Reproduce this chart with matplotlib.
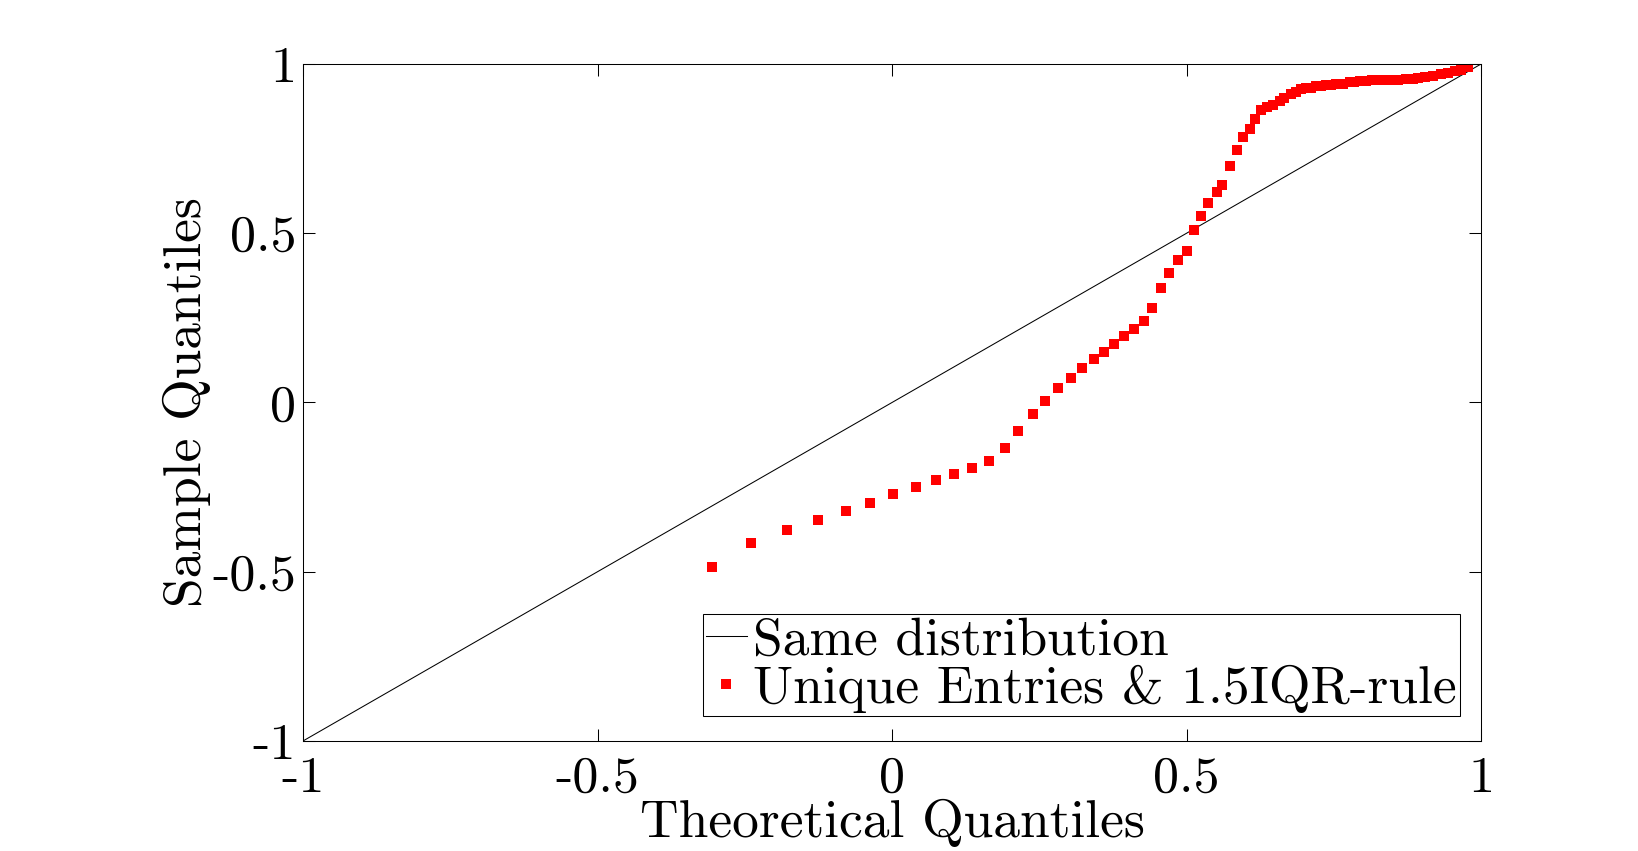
import matplotlib
matplotlib.use('Agg')
import matplotlib.pyplot as plt

plt.rcParams['font.family'] = ['cmr10', 'DejaVu Serif']
plt.rcParams['axes.unicode_minus'] = False

# QQ points (theoretical, sample)
theo_q = [-0.305, -0.239, -0.178, -0.125, -0.079, -0.037, 0.002, 0.040, 0.075, 0.106,
          0.136, 0.165, 0.191, 0.214, 0.240, 0.260, 0.282, 0.303, 0.323, 0.342,
          0.360, 0.377, 0.394, 0.411, 0.427, 0.442, 0.457, 0.471, 0.486, 0.500,
          0.513, 0.525, 0.537, 0.551, 0.561, 0.573, 0.585, 0.596, 0.607, 0.617,
          0.627, 0.637, 0.647, 0.658, 0.666, 0.678, 0.686, 0.695, 0.703, 0.712,
          0.720, 0.729, 0.737, 0.746, 0.754, 0.765, 0.777, 0.785, 0.794, 0.805,
          0.814, 0.825, 0.836, 0.848, 0.859, 0.873, 0.884, 0.893, 0.904, 0.918,
          0.932, 0.944, 0.955, 0.966, 0.978]
sample_q = [-0.487, -0.416, -0.378, -0.348, -0.321, -0.298, -0.271, -0.251, -0.230, -0.212,
            -0.194, -0.174, -0.135, -0.083, -0.035, 0.004, 0.042, 0.071, 0.101, 0.128,
            0.148, 0.172, 0.196, 0.216, 0.240, 0.278, 0.337, 0.382, 0.420, 0.447,
            0.509, 0.550, 0.588, 0.621, 0.642, 0.698, 0.745, 0.783, 0.807, 0.837,
            0.863, 0.872, 0.878, 0.890, 0.900, 0.910, 0.918, 0.925, 0.930, 0.930,
            0.936, 0.936, 0.939, 0.939, 0.942, 0.942, 0.946, 0.946, 0.949, 0.949,
            0.952, 0.952, 0.952, 0.954, 0.954, 0.957, 0.957, 0.959, 0.962, 0.966,
            0.970, 0.974, 0.978, 0.982, 0.990]

ref_line = [-1, 1]
ticks = [-1, -0.5, 0, 0.5, 1]
tick_labels = ['-1', '-0.5', '0', '0.5', '1']

fig = plt.figure(figsize=(16.38, 8.51), dpi=100)
ax = fig.add_axes([0.185, 0.1293, 0.7192, 0.7955])

ax.plot(ref_line, ref_line, color='black', lw=0.75, label='Same distribution')
ax.plot(theo_q, sample_q, 's', color='red', ms=6.5, mew=0, label='Unique Entries & 1.5IQR-rule')

ax.set_xlim(-1, 1)
ax.set_ylim(-1, 1)
ax.set_xticks(ticks)
ax.set_xticklabels(tick_labels)
ax.set_yticks(ticks)
ax.set_yticklabels(tick_labels)
ax.tick_params(direction='in', length=8.5, width=0.75, top=True, right=True, labelsize=37.5)
ax.tick_params(axis='x', pad=11)
ax.tick_params(axis='y', pad=5)
for s in ax.spines.values():
    s.set_linewidth(0.75)

ax.set_xlabel('Theoretical Quantiles', fontsize=38.5, labelpad=-2)
ax.set_ylabel('Sample Quantiles', fontsize=38.5, labelpad=1)

leg = ax.legend(loc='lower right', bbox_to_anchor=(0.982, 0.037), borderaxespad=0,
                fontsize=38.5, fancybox=False, framealpha=1, edgecolor='black',
                handlelength=0.76, handletextpad=0.12, labelspacing=0, borderpad=0.06,
                markerscale=1.0)
leg.get_frame().set_linewidth(0.75)

fig.savefig('out.png', dpi=100, facecolor='white')
